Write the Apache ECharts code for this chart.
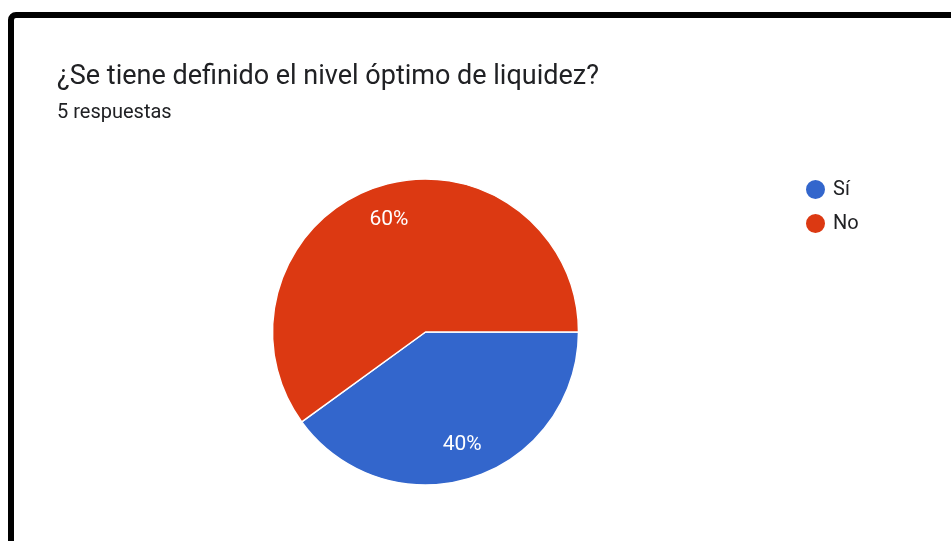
<!DOCTYPE html>
<html><head><meta charset="utf-8">
<script src="https://cdn.jsdelivr.net/npm/echarts@6/dist/echarts.min.js"></script>
<style>html,body{margin:0;padding:0;background:#fff}#c{width:951px;height:541px}</style>
</head><body><div id="c"></div>
<script>
const titleText = '¿Se tiene definido el nivel óptimo de liquidez?';
const subtitleText = '5 respuestas';
const categories = ['Sí', 'No'];
const values = [2, 3];
const colors = ['#3366CC', '#DC3912'];

const data = categories.map((c, i) => ({ name: c, value: values[i], itemStyle: { color: colors[i] } }));
const chart = echarts.init(document.getElementById('c'), null, { renderer: 'canvas' });
chart.setOption({
  animation: false,
  backgroundColor: '#fff',
  title: {
    text: titleText, subtext: subtitleText, left: 52, top: 59, itemGap: 12,
    textStyle: { fontFamily: 'Roboto', fontSize: 27, fontWeight: 'normal', color: '#202124' },
    subtextStyle: { fontFamily: 'Roboto', fontSize: 20, color: '#202124' }
  },
  legend: {
    orient: 'vertical', left: 799, top: 173, icon: 'circle', itemWidth: 21, itemHeight: 21, itemGap: 11,
    data: categories,
    textStyle: { fontFamily: 'Roboto', fontSize: 20, color: '#202124', padding: [0, 0, 0, 2] }
  },
  graphic: [{
    type: 'rect', shape: { x: 11, y: 15, width: 1100, height: 700, r: 5 },
    style: { fill: null, stroke: '#000', lineWidth: 6 }, silent: true, z: 100
  }],
  series: [{
    type: 'pie', center: [425.5, 332], radius: [0, 153], startAngle: 0, clockwise: true,
    data: data, label: { show: false }, labelLine: { show: false },
    itemStyle: { borderColor: '#fff', borderWidth: 1.5 }, silent: true
  }, {
    type: 'pie', center: [425.5, 332], radius: [78, 153], startAngle: 0, clockwise: true,
    data: categories.map((c, i) => ({ name: c, value: values[i] })),
    itemStyle: { color: 'rgba(0,0,0,0)' }, silent: true, legendHoverLink: false,
    label: { show: true, position: 'inside', formatter: '{d}%', fontFamily: 'Roboto', fontSize: 21, color: '#fff' },
    labelLine: { show: false }, z: 3
  }]
});
</script></body></html>
